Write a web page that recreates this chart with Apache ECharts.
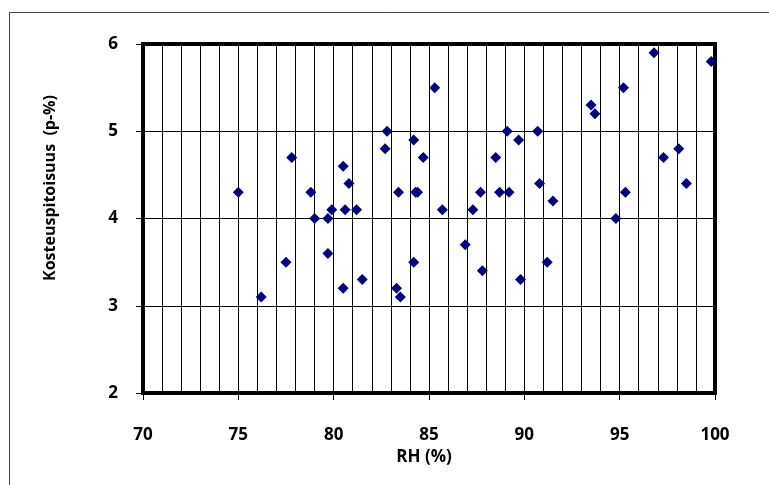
<!DOCTYPE html>
<html>
<head>
<meta charset="utf-8">
<script src="https://cdn.jsdelivr.net/npm/echarts@6/dist/echarts.min.js"></script>
<style>
  html, body { margin: 0; padding: 0; background: #fff; }
  #chart { width: 769px; height: 485px; }
</style>
</head>
<body>
<div id="chart"></div>
<script>
const rh = [
  75, 76.2, 77.5, 77.8, 78.8, 79.0, 79.7, 79.9, 79.7, 80.5,
  80.8, 80.6, 81.2, 80.5, 81.5, 82.8, 82.7, 84.2, 84.7, 83.4,
  84.3, 84.4, 84.2, 83.3, 83.5, 85.3, 85.7, 86.9, 87.3, 87.7,
  87.8, 88.5, 88.7, 89.2, 89.1, 89.7, 89.8, 90.7, 90.8, 91.2,
  91.5, 93.5, 93.7, 94.8, 95.2, 95.3, 96.8, 97.3, 98.1, 98.5,
  99.8
];
const moisture = [
  4.3, 3.1, 3.5, 4.7, 4.3, 4.0, 4.0, 4.1, 3.6, 4.6,
  4.4, 4.1, 4.1, 3.2, 3.3, 5.0, 4.8, 4.9, 4.7, 4.3,
  4.3, 4.3, 3.5, 3.2, 3.1, 5.5, 4.1, 3.7, 4.1, 4.3,
  3.4, 4.7, 4.3, 4.3, 5.0, 4.9, 3.3, 5.0, 4.4, 3.5,
  4.2, 5.3, 5.2, 4.0, 5.5, 4.3, 5.9, 4.7, 4.8, 4.4,
  5.8
];
const xTitle = "RH (%)";
const yTitle = "Kosteuspitoisuus  (p-%)";

const points = rh.map((x, i) => [x, moisture[i]]);

const chart = echarts.init(document.getElementById("chart"));

const labelFont = {
  color: "#000",
  fontFamily: "Open Sans",
  fontWeight: "bold",
  fontSize: 17,
};

chart.setOption({
  animation: false,
  backgroundColor: "#fff",
  grid: {
    left: 143, top: 44, width: 572, height: 349,
    show: true, borderColor: "#000", borderWidth: 4,
  },
  xAxis: {
    type: "value",
    min: 70, max: 100, interval: 5,
    name: xTitle,
    nameLocation: "middle",
    nameGap: 55,
    nameTextStyle: { color: "#000", fontFamily: "Open Sans", fontWeight: "bold", fontSize: 17, padding: [0, 10, 0, 0] },
    axisLine: { show: false },
    axisTick: { show: true, length: 7, lineStyle: { color: "#000" } },
    axisLabel: Object.assign({ margin: 34 }, labelFont),
    splitLine: { show: true, lineStyle: { color: "#000", width: 1 } },
    minorTick: { show: false, splitNumber: 5 },
    minorSplitLine: { show: true, lineStyle: { color: "#000", width: 1 } },
  },
  yAxis: {
    type: "value",
    min: 2, max: 6, interval: 1,
    axisLine: { show: false },
    axisTick: { show: true, length: 7, lineStyle: { color: "#000" } },
    axisLabel: Object.assign({ margin: 25 }, labelFont),
    splitLine: { show: true, lineStyle: { color: "#000", width: 1 } },
  },
  graphic: [
    {
      type: "rect",
      shape: { x: 9.5, y: 12.5, width: 800, height: 500 },
      style: { fill: null, stroke: "#444", lineWidth: 1 },
      silent: true,
    },
    {
      type: "text",
      x: 50, y: 188,
      rotation: Math.PI / 2,
      style: {
        text: yTitle,
        fill: "#000",
        font: "bold 16px 'Open Sans'",
        textAlign: "center",
        textVerticalAlign: "middle",
      },
    },
  ],
  series: [
    {
      type: "scatter",
      data: points,
      symbol: "diamond",
      symbolSize: 11,
      itemStyle: { color: "#000080", opacity: 1 },
    },
  ],
});
</script>
</body>
</html>
